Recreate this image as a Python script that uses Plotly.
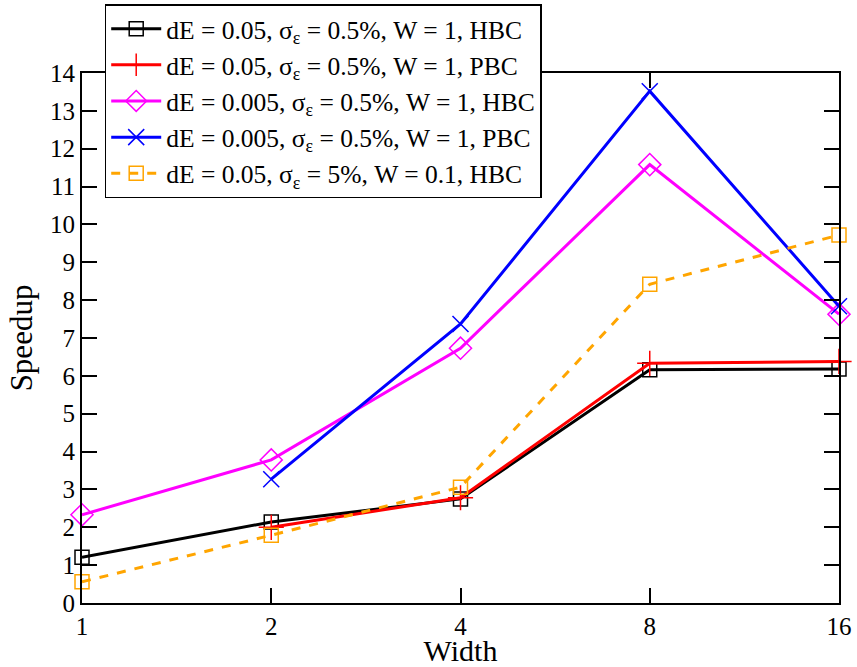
import plotly.graph_objects as go
import numpy as np

widths = [1, 2, 4, 8, 16]
hbc_005 = [1.21, 2.14, 2.75, 6.16, 6.18]
pbc_005_x = [2, 4, 8, 16]
pbc_005 = [2.0, 2.78, 6.33, 6.38]
hbc_0005 = [2.33, 3.78, 6.73, 11.58, 7.63]
pbc_0005_x = [2, 4, 8, 16]
pbc_0005 = [3.27, 7.37, 13.52, 7.84]
hbc_5pct = [0.56, 1.79, 3.06, 8.42, 9.72]

names = [
    "dE = 0.05, σ<sub>ε</sub> = 0.5%, W = 1, HBC",
    "dE = 0.05, σ<sub>ε</sub> = 0.5%, W = 1, PBC",
    "dE = 0.005, σ<sub>ε</sub> = 0.5%, W = 1, HBC",
    "dE = 0.005, σ<sub>ε</sub> = 0.5%, W = 1, PBC",
    "dE = 0.05, σ<sub>ε</sub> = 5%, W = 0.1, HBC",
]

fig = go.Figure()
fig.add_trace(go.Scatter(x=widths, y=hbc_005, name=names[0], mode="lines+markers", cliponaxis=False,
                         line=dict(color="black", width=3),
                         marker=dict(symbol="square-open", size=14, color="black", line=dict(width=1.5))))
fig.add_trace(go.Scatter(x=pbc_005_x, y=pbc_005, name=names[1], mode="lines+markers", cliponaxis=False,
                         line=dict(color="red", width=3),
                         marker=dict(symbol="cross-thin-open", size=18, color="red", line=dict(width=1.5, color="red"))))
fig.add_trace(go.Scatter(x=widths, y=hbc_0005, name=names[2], mode="lines+markers", cliponaxis=False,
                         line=dict(color="#ff00ff", width=3),
                         marker=dict(symbol="diamond-open", size=17, color="#ff00ff", line=dict(width=1.5))))
fig.add_trace(go.Scatter(x=pbc_0005_x, y=pbc_0005, name=names[3], mode="lines+markers", cliponaxis=False,
                         line=dict(color="blue", width=3),
                         marker=dict(symbol="x-thin-open", size=16, color="blue", line=dict(width=1.5, color="blue"))))
fig.add_trace(go.Scatter(x=widths, y=hbc_5pct, name=names[4], mode="lines+markers", cliponaxis=False,
                         line=dict(color="orange", width=3, dash="dash"),
                         marker=dict(symbol="square-open", size=14, color="orange", line=dict(width=1.5))))

font = "Liberation Serif, Times New Roman, serif"
fig.update_layout(
    width=857, height=667,
    margin=dict(l=82, r=18, t=73, b=64, autoexpand=False),
    paper_bgcolor="white", plot_bgcolor="white",
    font=dict(family=font, size=25.5, color="black"),
    showlegend=True,
    legend=dict(x=0.03, y=1.13, xanchor="left", yanchor="top",
                bgcolor="white", bordercolor="black", borderwidth=1.5,
                font=dict(family=font, size=25.5), tracegroupgap=0, itemwidth=50),
)
fig.update_xaxes(type="log", range=[0, np.log10(16)], tickvals=widths, ticktext=[str(w) for w in widths],
                 ticks="inside", ticklen=15, tickwidth=1.5, tickcolor="black",
                 showline=True, linecolor="black", linewidth=2, mirror="allticks",
                 showgrid=False, zeroline=False, automargin=False,
                 title=dict(text="Width", font=dict(size=30), standoff=2),
                 tickfont=dict(size=25))
fig.update_yaxes(range=[0, 14], dtick=1, ticks="inside", ticklen=15, tickwidth=1.5, tickcolor="black",
                 showline=True, linecolor="black", linewidth=2, mirror="allticks",
                 showgrid=False, zeroline=False, automargin=False,
                 title=dict(text="Speedup", font=dict(size=31), standoff=8),
                 tickfont=dict(size=25))

fig.write_html("out.html", config={"displayModeBar": False},
               post_script="document.body.style.margin='0px';")
